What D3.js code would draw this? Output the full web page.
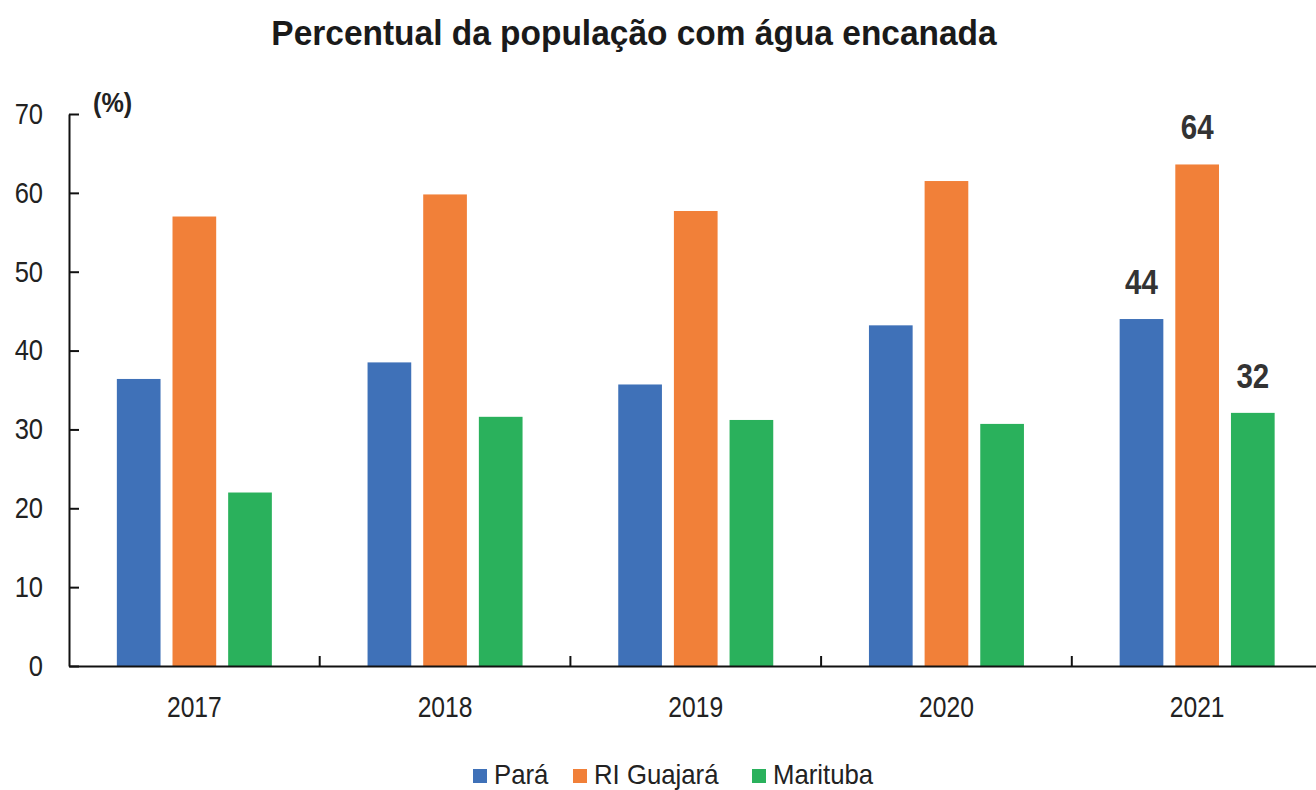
<!DOCTYPE html>
<html>
<head>
<meta charset="utf-8">
<script src="https://cdn.jsdelivr.net/npm/d3@7"></script>
<style>
  html, body { margin: 0; padding: 0; background: #fff; }
  svg { display: block; }
  text { font-family: "Liberation Sans Narrow", "Arial Narrow", "Liberation Sans", Arial, sans-serif; }
</style>
</head>
<body>
<svg id="chart" width="1316" height="790"></svg>
<script>
const years = ["2017", "2018", "2019", "2020", "2021"];
const seriesNames = ["Pará", "RI Guajará", "Marituba"];
const para = [36.4, 38.5, 35.7, 43.2, 44.0];
const riGuajara = [57.0, 59.8, 57.7, 61.5, 63.6];
const marituba = [22.0, 31.6, 31.2, 30.7, 32.1];
const seriesColors = ["#3F71B8", "#F18039", "#2AB15C"];
const yTicks = [0, 10, 20, 30, 40, 50, 60, 70];
const labelled = [{ year: "2021", series: 0, text: "44" }, { year: "2021", series: 1, text: "64" }, { year: "2021", series: 2, text: "32" }];
const title = "Percentual da população com água encanada";
const unit = "(%)";

const seriesValues = [para, riGuajara, marituba];

// horizontally condense a text around its anchor x (narrow-font look)
function narrow(sel, k) {
  sel.each(function () {
    const t = d3.select(this);
    const xv = +t.attr("x") || 0;
    t.attr("transform", `matrix(${k},0,0,1,${xv * (1 - k)},0)`);
  });
}

const svg = d3.select("#chart");
const x0 = 69, band = 250.7;
const x = d3.scaleBand().domain(years).range([x0, x0 + band * years.length]).paddingInner(0).paddingOuter(0);
const groupW = 155;
const xs = d3.scaleBand().domain(d3.range(seriesNames.length)).range([0, groupW]).paddingInner(0.215).paddingOuter(0);
const y = d3.scaleLinear().domain([0, 70]).range([666, 114]);

// title
svg.append("text").attr("x", 634).attr("y", 45).attr("text-anchor", "middle")
  .attr("font-size", 36).attr("font-weight", "bold").attr("fill", "#1a1a1a").text(title)
  .call(narrow, 0.93);

// unit label
svg.append("text").attr("x", 93).attr("y", 112).attr("font-size", 28).attr("font-weight", "bold")
  .attr("fill", "#222").text(unit).call(narrow, 0.9);

// bars
seriesValues.forEach((vals, si) => {
  svg.append("g").selectAll("rect").data(years).join("rect")
    .attr("x", d => x(d) + (x.bandwidth() - groupW) / 2 + xs(si))
    .attr("width", xs.bandwidth())
    .attr("y", (d, i) => y(vals[i]))
    .attr("height", (d, i) => y(0) - y(vals[i]))
    .attr("fill", seriesColors[si]);
});

// data labels
svg.append("g").selectAll("text").data(labelled).join("text")
  .attr("x", d => x(d.year) + (x.bandwidth() - groupW) / 2 + xs(d.series) + xs.bandwidth() / 2)
  .attr("y", d => y(seriesValues[d.series][years.indexOf(d.year)]) - 25)
  .attr("text-anchor", "middle").attr("font-size", 36).attr("font-weight", "bold")
  .attr("fill", "#333").text(d => d.text)
  .call(narrow, 0.82);

// y axis
const yAxis = d3.axisLeft(y).tickValues(yTicks).tickSize(-10).tickPadding(26).tickSizeOuter(0);
const gy = svg.append("g").attr("transform", `translate(${x0},0)`).call(yAxis);
gy.select(".domain").attr("stroke", "#111").attr("stroke-width", 2);
gy.selectAll(".tick line").attr("stroke", "#111").attr("stroke-width", 2);
gy.selectAll(".tick text").attr("font-size", 29).attr("fill", "#222")
  .attr("font-family", "'Liberation Sans Narrow', 'Arial Narrow', 'Liberation Sans', Arial, sans-serif")
  .call(narrow, 0.88);

// x axis
const xAxis = d3.axisBottom(x).tickSize(0).tickPadding(30).tickSizeOuter(0);
const gx = svg.append("g").attr("transform", `translate(0,${y(0)})`).call(xAxis);
gx.select(".domain").attr("stroke", "#111").attr("stroke-width", 2);
gx.selectAll(".tick text").attr("font-size", 29).attr("fill", "#222")
  .attr("font-family", "'Liberation Sans Narrow', 'Arial Narrow', 'Liberation Sans', Arial, sans-serif")
  .call(narrow, 0.85);
// boundary ticks between categories
svg.append("g").selectAll("line").data(years.slice(1)).join("line")
  .attr("x1", d => x(d)).attr("x2", d => x(d))
  .attr("y1", y(0)).attr("y2", y(0) - 10)
  .attr("stroke", "#111").attr("stroke-width", 2);

// legend
const legendX = [473, 573, 752];
const lg = svg.append("g").selectAll("g").data(seriesNames).join("g")
  .attr("transform", (d, i) => `translate(${legendX[i]},0)`);
lg.append("rect").attr("x", 0).attr("y", 769).attr("width", 14).attr("height", 14)
  .attr("fill", (d, i) => seriesColors[i]);
lg.append("text").attr("x", 21).attr("y", 784).attr("font-size", 28).attr("fill", "#222").text(d => d)
  .call(narrow, 0.92);
</script>
</body>
</html>
